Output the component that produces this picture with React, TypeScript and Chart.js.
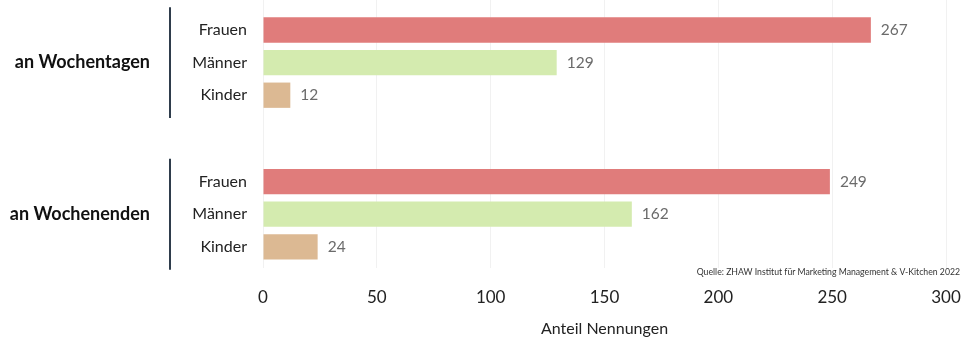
import React, { useEffect, useRef } from "react";
import { Chart, registerables } from "chart.js";

Chart.register(...registerables);

const groups = ["an Wochentagen", "an Wochenenden"];
const categories = ["Frauen", "Männer", "Kinder"];
const weekdayValues = [267, 129, 12];
const weekendValues = [249, 162, 24];
const xTicks = [0, 50, 100, 150, 200, 250, 300];
const categoryColors = ["#E07C7B", "#D4EBAF", "#DCB993"];
const sourceText = "Quelle: ZHAW Institut für Marketing Management & V-Kitchen 2022";
const axisTitle = "Anteil Nennungen";

const GROUP_STRIDE = 4.65;
const FONT = "Lato, 'Noto Sans', sans-serif";

const seriesByGroup = [weekdayValues, weekendValues];

export default function App() {
  const ref = useRef<HTMLCanvasElement | null>(null);

  useEffect(() => {
    document.body.style.margin = "0";
    const canvas = ref.current;
    if (!canvas) return;

    const points: { x: number; y: number }[] = [];
    const colors: string[] = [];
    const labels: string[] = [];
    const positions: number[] = [];
    seriesByGroup.forEach((vals, g) => {
      vals.forEach((v, c) => {
        const pos = g * GROUP_STRIDE + c;
        points.push({ x: v, y: pos });
        colors.push(categoryColors[c]);
        labels.push(categories[c]);
        positions.push(pos);
      });
    });

    const overlay = {
      id: "overlay",
      afterDatasetsDraw(chart: any) {
        const ctx = chart.ctx;
        const ys = chart.scales.y;
        const meta = chart.getDatasetMeta(0);
        ctx.save();
        // value labels
        ctx.font = `15.5px ${FONT}`;
        ctx.fillStyle = "#6b6b6b";
        ctx.textAlign = "left";
        ctx.textBaseline = "middle";
        meta.data.forEach((bar: any, i: number) => {
          ctx.fillText(String(points[i].x), bar.x + 10, bar.y);
        });
        // group labels and separators
        groups.forEach((name, g) => {
          const mid = ys.getPixelForValue(g * GROUP_STRIDE + 1);
          ctx.font = `bold 18px ${FONT}`;
          ctx.fillStyle = "#111";
          ctx.textAlign = "right";
          ctx.fillText(name, 150, mid);
          const top = ys.getPixelForValue(g * GROUP_STRIDE - 0.7);
          const bot = ys.getPixelForValue(g * GROUP_STRIDE + 2.7);
          ctx.strokeStyle = "#2f3d4c";
          ctx.lineWidth = 2;
          ctx.beginPath();
          ctx.moveTo(170, top);
          ctx.lineTo(170, bot);
          ctx.stroke();
        });
        // source
        ctx.font = `8.7px ${FONT}`;
        ctx.fillStyle = "#333";
        ctx.textAlign = "right";
        ctx.fillText(sourceText, 960, 272);
        ctx.restore();
      },
    };

    const chart = new Chart(canvas, {
      type: "bar",
      data: {
        datasets: [
          {
            data: points as any,
            backgroundColor: colors,
            borderWidth: 0,
            categoryPercentage: 0.8,
            barPercentage: 0.97,
          },
        ],
      },
      options: {
        responsive: false,
        animation: false,
        indexAxis: "y",
        layout: { padding: { left: 0, right: 17, top: 0, bottom: 0 } },
        plugins: {
          legend: { display: false },
          tooltip: { enabled: false },
        },
        scales: {
          x: {
            type: "linear",
            min: 0,
            max: 300,
            afterBuildTicks: (scale: any) => {
              scale.ticks = xTicks.map((v) => ({ value: v }));
            },
            afterFit: (scale: any) => {
              scale.height = 74;
              scale.paddingLeft = 0;
              scale.paddingRight = 0;
            },
            grid: { color: "#f1f1f1", lineWidth: 1, drawTicks: false },
            border: { display: false },
            ticks: {
              padding: 19,
              color: "#222",
              font: { size: 17, family: FONT },
            },
            title: {
              display: true,
              text: axisTitle,
              color: "#222",
              font: { size: 16, family: FONT },
              padding: { top: 0, bottom: 4 },
            },
          },
          y: {
            type: "linear",
            reverse: true,
            offset: false,
            bounds: "data",
            min: -0.92,
            max: 7.3,
            afterBuildTicks: (scale: any) => {
              scale.ticks = positions.map((v) => ({ value: v }));
            },
            afterFit: (scale: any) => {
              scale.width = 263;
              scale.paddingTop = 0;
              scale.paddingBottom = 0;
            },
            grid: { display: false, drawTicks: false, offset: false },
            border: { display: false },
            ticks: {
              padding: 16,
              color: "#222",
              font: { size: 16, family: FONT },
              callback: (_v: any, i: number) => labels[i],
            },
          },
        },
      },
      plugins: [overlay],
    });

    return () => chart.destroy();
  }, []);

  return (
    <div style={{ position: "fixed", left: 0, top: 0, width: 963, height: 342, background: "#fff" }}>
      <canvas ref={ref} width={963} height={342} />
    </div>
  );
}
